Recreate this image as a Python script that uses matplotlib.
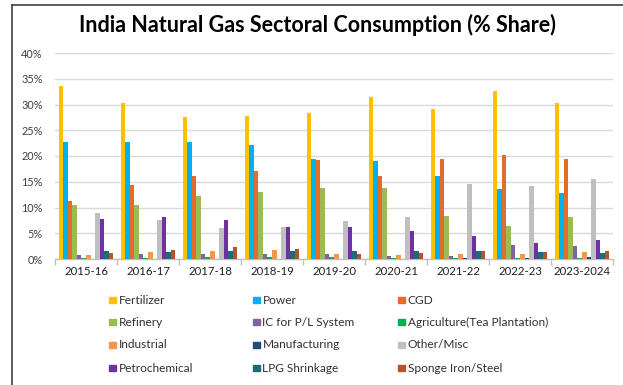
import matplotlib
matplotlib.use("Agg")
import matplotlib.pyplot as plt
import matplotlib.patches as mpatches
from matplotlib.ticker import FuncFormatter, FixedLocator
import numpy as np

years = ["2015-16", "2016-17", "2017-18", "2018-19", "2019-20",
         "2020-21", "2021-22", "2022-23", "2023-2024"]

sectors = ["Fertilizer", "Power", "CGD", "Refinery", "IC for P/L System",
           "Agriculture(Tea Plantation)", "Industrial", "Manufacturing",
           "Other/Misc", "Petrochemical", "LPG Shrinkage", "Sponge Iron/Steel"]

colors = ["#FFC000", "#00B0F0", "#E46C2A", "#9BBB59", "#8064A2", "#00B050",
          "#F79646", "#1F4E79", "#BFBFBF", "#7030A0", "#1D6A78", "#B5532A"]

# % share per sector, one list per sector in year order
fertilizer = [33.6, 30.2, 27.6, 27.7, 28.4, 31.4, 29.1, 32.7, 30.3]
power = [22.7, 22.7, 22.7, 22.2, 19.5, 19.0, 16.2, 13.6, 12.9]
cgd = [11.3, 14.4, 16.1, 17.1, 19.2, 16.1, 19.5, 20.2, 19.4]
refinery = [10.5, 10.5, 12.3, 13.0, 13.7, 13.8, 8.3, 6.4, 8.2]
ic_pl = [0.8, 0.9, 0.9, 0.9, 0.9, 0.6, 0.5, 2.7, 2.5]
agriculture = [0.1, 0.2, 0.4, 0.3, 0.3, 0.2, 0.1, 0.1, 0.1]
industrial = [0.8, 1.3, 1.6, 1.7, 0.9, 0.8, 1.0, 0.9, 1.3]
manufacturing = [0.0, 0.0, 0.0, 0.0, 0.0, 0.0, 0.1, 0.1, 0.3]
other = [8.9, 7.6, 6.0, 6.3, 7.4, 8.1, 14.5, 14.2, 15.6]
petrochemical = [7.7, 8.2, 7.6, 6.3, 6.3, 5.4, 4.4, 3.1, 3.6]
lpg = [1.5, 1.4, 1.5, 1.5, 1.5, 1.5, 1.5, 1.4, 1.2]
sponge = [1.1, 1.7, 2.4, 2.0, 1.0, 1.1, 1.6, 1.4, 1.5]

series = [fertilizer, power, cgd, refinery, ic_pl, agriculture, industrial,
          manufacturing, other, petrochemical, lpg, sponge]

plt.rcParams["font.family"] = ["Lato", "DejaVu Sans"]

W, H = 623, 385
fig = plt.figure(figsize=(W / 100, H / 100), dpi=100, facecolor="white")

# outer frame (left and top edges visible)
fig.add_artist(plt.Line2D([12 / W, 12 / W], [0, 1 - 5 / H], color="#404040", lw=1.2))
fig.add_artist(plt.Line2D([12 / W, 1], [1 - 5 / H, 1 - 5 / H], color="#404040", lw=1.2))

ax = fig.add_axes([55 / W, 1 - 259 / H, 558 / W, 206 / H])

x = np.arange(len(years))
n = len(series)
bw = 0.0737
for i, (vals, c, name) in enumerate(zip(series, colors, sectors)):
    ax.bar(x + (i - (n - 1) / 2) * bw, vals, width=bw, color=c, label=name,
           zorder=3, linewidth=0)

ax.set_ylim(0, 40)
ax.set_xlim(-0.5, len(years) - 0.5)
ax.set_yticks(np.arange(0, 41, 5))
ax.yaxis.set_major_formatter(FuncFormatter(lambda v, p: f"{v:.0f}%"))
ax.tick_params(axis="y", length=0, labelsize=7.8, labelcolor="#404040", pad=9)
ax.grid(axis="y", color="#D9D9D9", linewidth=1, zorder=0)

ax.set_xticks(x)
ax.set_xticklabels(years)
ax.tick_params(axis="x", which="major", length=0, labelsize=8.2, labelcolor="#202020", pad=5)
ax.xaxis.set_minor_locator(FixedLocator(np.arange(-0.5, len(years), 1)))
ax.tick_params(axis="x", which="minor", length=4, color="#BFBFBF", width=1)

for s in ["top", "right", "left"]:
    ax.spines[s].set_visible(False)
ax.spines["bottom"].set_color("#BFBFBF")
ax.spines["bottom"].set_linewidth(1)

fig.text(317 / W, 1 - 25 / H, "India Natural Gas Sectoral Consumption (% Share)",
         ha="center", va="center", fontsize=15.5, fontweight="bold", color="black")

# legend laid out in rows of three
col_x = [109, 253, 398]
row_y = [300, 322, 345, 368]
for i, (name, c) in enumerate(zip(sectors, colors)):
    r, k = divmod(i, 3)
    fig.add_artist(mpatches.Rectangle((col_x[k] / W, 1 - (row_y[r] + 3.3) / H),
                                      6.7 / W, 6.7 / H, color=c,
                                      transform=fig.transFigure))
    fig.text((col_x[k] + 9.5) / W, 1 - row_y[r] / H, name, ha="left", va="center",
             fontsize=8.6, color="#303030")

fig.savefig("out.png", dpi=100, facecolor="white")
